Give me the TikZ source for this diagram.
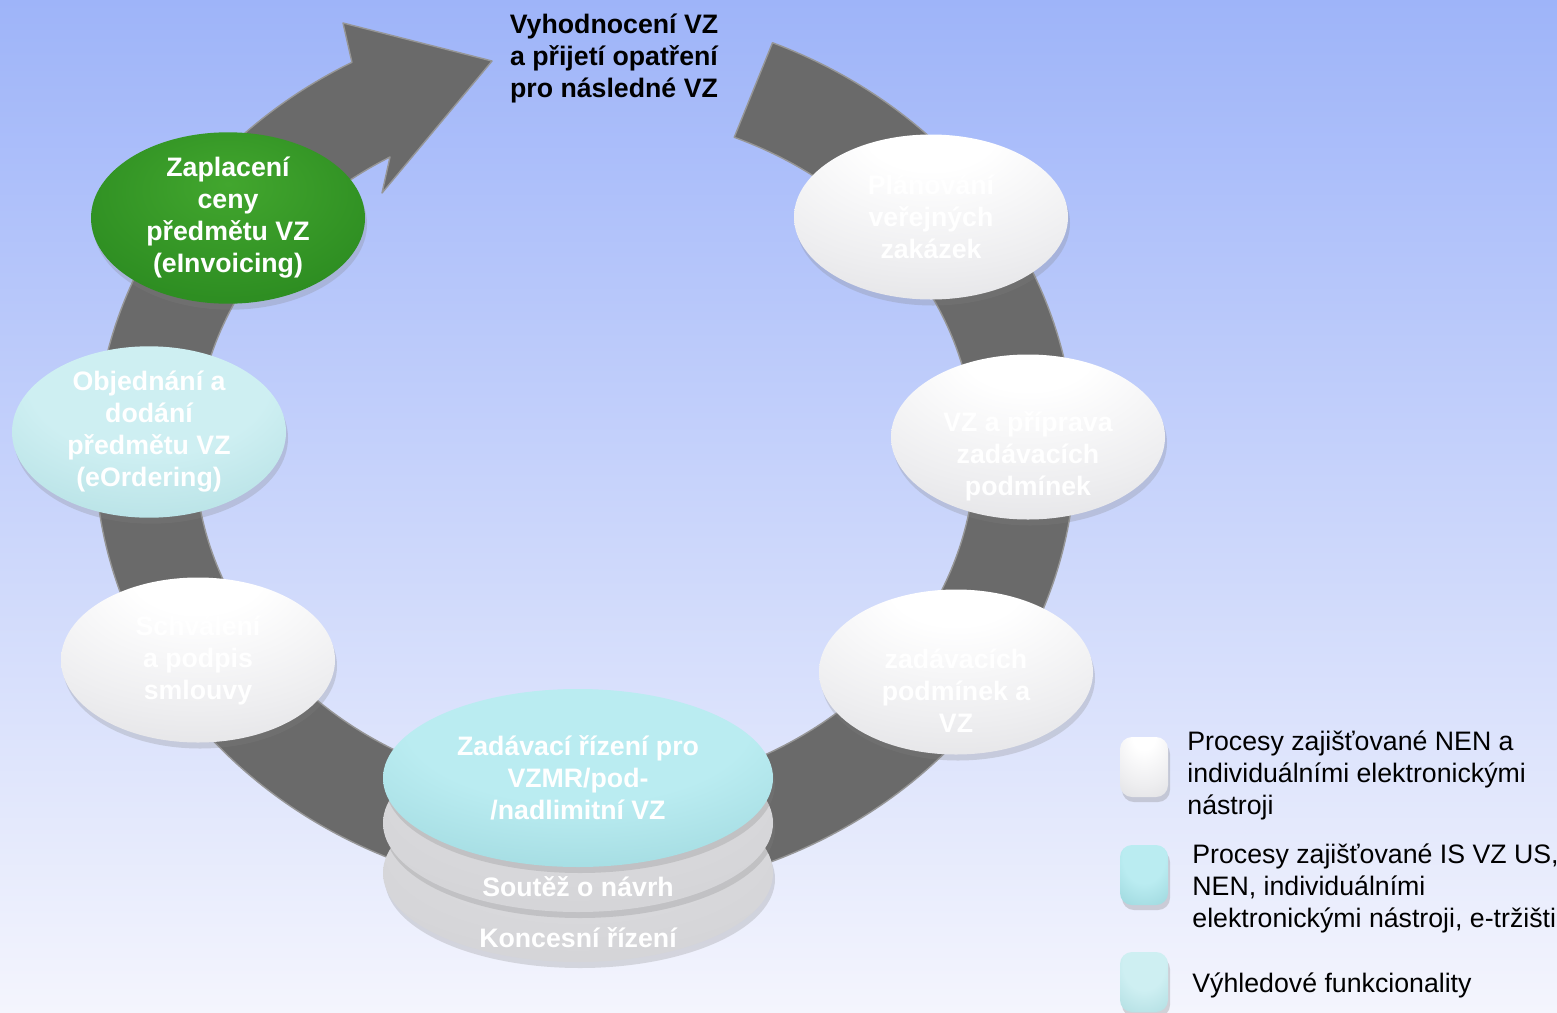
\documentclass[tikz,border=0pt]{standalone}
\usepackage{fontspec}
\setmainfont{Liberation Sans}
\usetikzlibrary{positioning, shapes.geometric, shadows}

\definecolor{bgtop}{RGB}{158,180,249}
\definecolor{bgbot}{RGB}{244,245,253}
\definecolor{ringgray}{RGB}{106,106,106}
\definecolor{ringedge}{RGB}{150,150,150}
\definecolor{ovalhi}{RGB}{238,238,240}
\definecolor{ovalmid}{RGB}{222,222,225}
\definecolor{ovalrim}{RGB}{176,176,180}
\definecolor{discmid}{RGB}{210,210,213}
\definecolor{greenhi}{RGB}{66,166,46}
\definecolor{greenmid}{RGB}{46,142,34}
\definecolor{greenlo}{RGB}{28,104,22}
\definecolor{tealhi}{RGB}{186,236,241}
\definecolor{tealmid}{RGB}{150,210,216}
\definecolor{teallo}{RGB}{104,168,176}
\definecolor{palehi}{RGB}{206,239,242}
\definecolor{palemid}{RGB}{170,218,222}
\definecolor{palelo}{RGB}{126,186,192}

\pgfdeclareradialshading{whiteoval}{\pgfpoint{0bp}{30bp}}{color(0bp)=(white); color(12bp)=(white); color(34bp)=(ovalhi); color(52bp)=(ovalmid); color(74bp)=(ovalmid); color(80bp)=(ovalrim); color(95bp)=(ovalrim)}
\pgfdeclareradialshading{discoval}{\pgfpoint{0bp}{10bp}}{color(0bp)=(ovalmid); color(40bp)=(discmid); color(56bp)=(discmid); color(62bp)=(ovalrim); color(85bp)=(ovalrim)}
\pgfdeclareradialshading{greenoval}{\pgfpoint{0bp}{10bp}}{color(0bp)=(greenhi); color(30bp)=(greenmid); color(52bp)=(greenmid); color(60bp)=(greenlo); color(85bp)=(greenlo)}
\pgfdeclareradialshading{tealoval}{\pgfpoint{0bp}{20bp}}{color(0bp)=(tealhi); color(22bp)=(tealhi); color(50bp)=(tealmid); color(62bp)=(tealmid); color(72bp)=(teallo); color(90bp)=(teallo)}
\pgfdeclareradialshading{paleoval}{\pgfpoint{0bp}{20bp}}{color(0bp)=(palehi); color(22bp)=(palehi); color(50bp)=(palemid); color(62bp)=(palemid); color(72bp)=(palelo); color(90bp)=(palelo)}

\begin{document}
\begin{tikzpicture}[x=0.1mm, y=-0.1mm,
	every node/.style={font=\fontsize{7.6}{9.1}\selectfont},
	ovaltext/.style={align=center, text=white, font=\fontsize{7.6}{9.1}\selectfont\bfseries},
	oval/.style={ellipse, ovaltext, minimum width=27.4mm, minimum height=16.5mm, inner sep=0pt,
		drop shadow={shadow xshift=0.2mm, shadow yshift=-0.6mm, opacity=0.25}},
	disc/.style={oval, minimum width=39mm, minimum height=17.8mm},
	legbox/.style={rectangle, rounded corners=1.2mm, minimum width=4.8mm, minimum height=6mm, inner sep=0pt,
		drop shadow={shadow xshift=0.2mm, shadow yshift=-0.5mm, opacity=0.3}},
	legtext/.style={align=left, inner sep=0pt, text=black},
	]
	\useasboundingbox (0,0) rectangle (1557,1012);
	\fill[top color=bgtop, bottom color=bgbot] (0,0) rectangle (1557,1012);

	% circular arrow
	\fill[ringgray, draw=ringedge, line width=0.4pt, line join=round]
		(585,452) ++(-67.5:490 and 443)
		arc[start angle=-67.5, end angle=241.6, x radius=490, y radius=443]
		-- (343,23) -- (492,61) -- (382,193) -- (390,157)
		arc[start angle=240, end angle=-67.5, x radius=390, y radius=341] -- cycle;

	\node[ovaltext] (eval) at (614,58) {\textcolor{black}{Vyhodnocení VZ}\\\textcolor{black}{a přijetí opatření}\\\textcolor{black}{pro následné VZ}};

	\node[oval, shading=whiteoval] (plan) at (931,217) {Plánování\\veřejných\\zakázek};
	\node[oval, shading=whiteoval, label={[ovaltext, yshift=-1.9mm]center:VZ a příprava\\zadávacích\\podmínek}] (priprava) at (1028,437) {};
	\node[oval, shading=whiteoval, label={[ovaltext, yshift=-1.9mm]center:zadávacích\\podmínek a\\VZ}] (podminky) at (956,672) {};
	\node[oval, shading=whiteoval] (smlouva) at (198,660) {Schválení\\a podpis\\smlouvy};
	\node[oval, shading=paleoval] (objednani) at (149,432) {Objednání a\\dodání\\předmětu VZ\\(eOrdering)};
	\node[oval, shading=greenoval] (platba) at (228,218) {Zaplacení\\ceny\\předmětu VZ\\(eInvoicing)};

	\node[disc, shading=discoval, label={[ovaltext, yshift=-6.5mm]center:Koncesní řízení}] (koncese) at (578,873) {};
	\node[disc, shading=discoval, label={[ovaltext, yshift=-6.4mm]center:Soutěž o návrh}] (soutez) at (578,823) {};
	\node[disc, shading=tealoval] (rizeni) at (578,778) {Zadávací řízení pro\\VZMR/pod-\\/nadlimitní VZ};

	% legend
	\node[legbox, shading=whiteoval] (box1) at (1144,767) {};
	\node[legbox, shading=tealoval] (box2) at (1144,875) {};
	\node[legbox, shading=paleoval] (box3) at (1144,982) {};
	\node[legtext, right=1.8mm of box1, yshift=-0.8mm] (txt1) {Procesy zajišťované NEN a\\individuálními elektronickými\\nástroji};
	\node[legtext, right=2.3mm of box2, yshift=-1.3mm] (txt2) {Procesy zajišťované IS VZ US,\\NEN, individuálními\\elektronickými nástroji, e-tržišti};
	\node[legtext, right=2.3mm of box3, yshift=-0.3mm] (txt3) {Výhledové funkcionality};
\end{tikzpicture}
\end{document}
